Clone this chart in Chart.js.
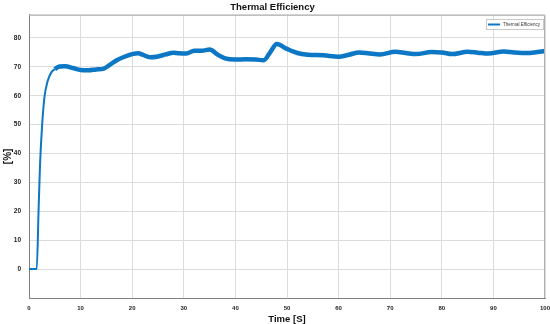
<!DOCTYPE html>
<html>
<head>
<meta charset="utf-8">
<script src="https://cdn.jsdelivr.net/npm/chart.js@4"></script>
<style>
  html, body { margin: 0; padding: 0; background: #fff; }
  #wrap { width: 550px; height: 324px; }
</style>
</head>
<body>
<div id="wrap"><canvas id="myChart" width="550" height="324"></canvas></div>
<script>
const seriesName = "Thermal Efficiency";
const time = [0, 1.5, 1.85, 2.15, 2.55, 3.0, 3.6, 4.3, 5.0, 5.9, 7.0, 8.5, 10, 11.5, 13, 14.5, 15.5, 17, 18.5, 20,
  21.2, 22, 23.5, 25, 26.5, 28, 29, 30.5, 32, 33.5, 35, 36.5, 38, 40, 42, 44, 45.5, 46.8, 48, 50, 52,
  54, 57, 60, 62, 64, 66, 68, 71, 73, 75, 78, 80, 82, 85, 87, 89, 92, 94, 96.5, 98, 100];
const efficiency = [0, 0, 20, 36.7, 50, 59.6, 65, 68, 69.2, 70.1, 70.2, 69.6, 68.9, 68.8, 69.1, 69.4, 70.5, 72.3, 73.5, 74.4,
  74.7, 74.2, 73.3, 73.6, 74.3, 74.9, 74.7, 74.6, 75.6, 75.6, 76.0, 74.3, 72.9, 72.5, 72.6, 72.5, 72.3, 75.2, 77.9, 76.2, 74.8,
  74.2, 74.0, 73.5, 74.2, 75.0, 74.6, 74.3, 75.2, 74.8, 74.4, 75.1, 75.0, 74.4, 75.2, 74.9, 74.6, 75.3, 75.0, 74.8, 75.0, 75.5];
const xTicks = [0, 10, 20, 30, 40, 50, 60, 70, 80, 90, 100];

const lineColor = "#0b77c5";
const fontFam = "'Liberation Sans', Arial, sans-serif";

// frame + small legend box in the top right corner
const framePlugin = {
  id: "frame",
  afterDraw(chart) {
    const { ctx, chartArea: a } = chart;
    ctx.save();
    ctx.strokeStyle = "#b0b0b0";
    ctx.lineWidth = 1;
    ctx.beginPath();
    ctx.moveTo(a.left, a.top + 0.5);
    ctx.lineTo(a.right - 0.5, a.top + 0.5);
    ctx.lineTo(a.right - 0.5, a.bottom);
    ctx.stroke();

    const bx = 486, by = 19, bw = 57, bh = 10;
    ctx.fillStyle = "#fff";
    ctx.fillRect(bx, by, bw, bh);
    ctx.strokeStyle = "#c8c8c8";
    ctx.strokeRect(bx + 0.5, by + 0.5, bw, bh);
    ctx.strokeStyle = lineColor;
    ctx.lineWidth = 2;
    ctx.beginPath();
    ctx.moveTo(bx + 2, by + 5.5);
    ctx.lineTo(bx + 14, by + 5.5);
    ctx.stroke();
    ctx.fillStyle = "#333";
    ctx.font = "4.5px " + fontFam;
    ctx.textBaseline = "middle";
    ctx.fillText(seriesName, bx + 17, by + 5.8);
    ctx.restore();
  }
};

const ctx1 = document.querySelector("#myChart");

new Chart(ctx1, {
  type: "line",
  data: {
    datasets: [
      {
        label: seriesName,
        data: time.map((t, i) => ({ x: t, y: efficiency[i] })),
        borderColor: lineColor,
        borderWidth: 4.5,
        pointRadius: 0,
        cubicInterpolationMode: "monotone",
        segment: {
          borderWidth: (c) => (c.p0.parsed.x < 4.5 ? 2 : 4.5),
        },
      },
    ],
  },
  options: {
    responsive: false,
    animation: false,
    layout: { padding: { right: 5, left: 0, top: 0, bottom: 0 } },
    plugins: {
      legend: { display: false },
      tooltip: { enabled: false },
      title: {
        display: true,
        text: "Thermal Efficiency",
        color: "#111",
        font: { family: fontFam, size: 9.5, weight: "bold", lineHeight: 1.35 },
        padding: { top: 1, bottom: 1 },
      },
    },
    scales: {
      x: {
        type: "linear",
        min: 0,
        max: 100,
        afterFit: (s) => { s.height = 26; s.paddingLeft = 0; s.paddingRight = 0; },
        afterBuildTicks: (s) => { s.ticks = xTicks.map((v) => ({ value: v })); },
        grid: { color: "#dcdcdc", drawTicks: false },
        border: { color: "#808080" },
        ticks: {
          color: "#222",
          padding: 7,
          maxRotation: 0,
          autoSkip: false,
          font: { family: fontFam, size: 6, weight: "bold" },
        },
        title: {
          display: true,
          text: "Time [S]",
          color: "#111",
          padding: { top: 0, bottom: 0 },
          font: { family: fontFam, size: 9.5, weight: "bold", lineHeight: 1 },
        },
      },
      y: {
        min: -10,
        max: 88,
        afterFit: (s) => { s.width = 29; },
        grid: { color: "#dcdcdc", drawTicks: false },
        border: { color: "#808080" },
        ticks: {
          stepSize: 10,
          color: "#222",
          padding: 8,
          font: { family: fontFam, size: 6.5, weight: "bold" },
          callback: (v) => (v >= 0 && v % 10 === 0 ? v : ""),
        },
        title: {
          display: true,
          text: "[%]",
          color: "#111",
          padding: { top: 2, bottom: 0 },
          font: { family: fontFam, size: 10, weight: "bold" },
        },
      },
    },
  },
  plugins: [framePlugin],
});
</script>
</body>
</html>
